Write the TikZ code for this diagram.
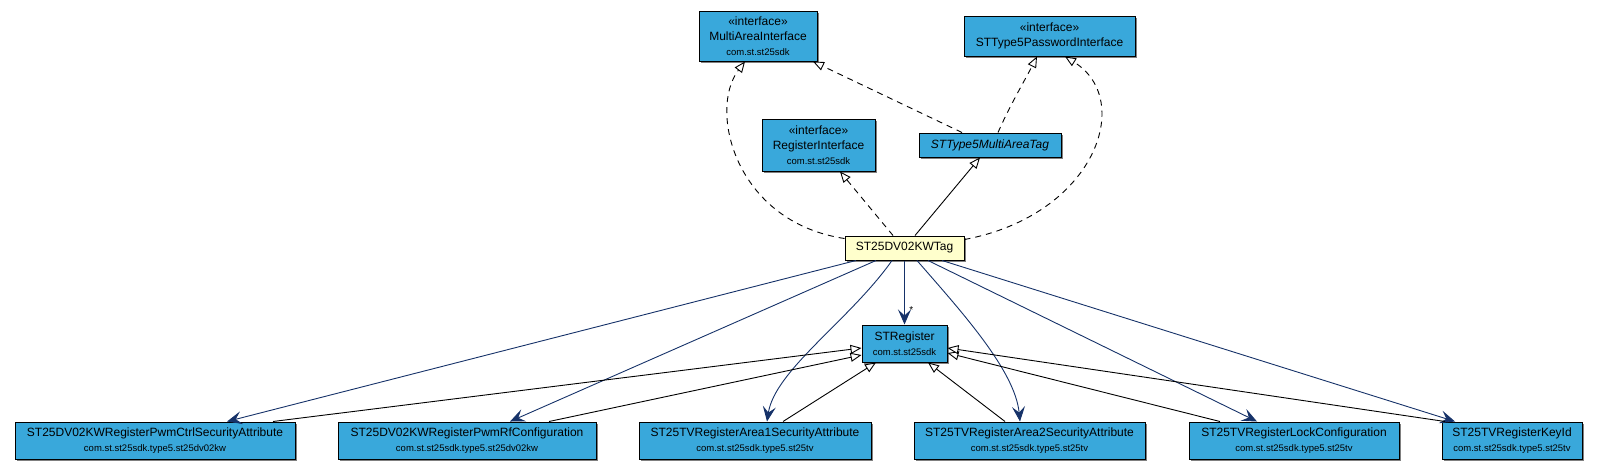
\documentclass[tikz,border=0pt]{standalone}
\usepackage{fontspec}
\setmainfont{Liberation Sans}
\usetikzlibrary{arrows.meta,shadows}
\definecolor{umlblue}{RGB}{57,168,219}
\definecolor{umlyellow}{RGB}{255,255,204}
\definecolor{depnavy}{RGB}{22,50,105}
\newcommand{\pkgname}[1]{{\fontsize{9.5}{11}\selectfont #1}}
\tikzset{
  umlbox/.style={draw=black, line width=1pt, fill=umlblue, inner sep=0pt, align=center,
    font=\fontsize{12}{15}\selectfont,
    drop shadow={shadow xshift=2pt, shadow yshift=-2pt, fill=black!50, opacity=1}},
  tagbox/.style={umlbox, fill=umlyellow},
  realize/.style={draw=black, line width=0.9pt, dash pattern=on 6pt off 5pt,
    -{Triangle[length=11pt, width=9pt, fill=white, line width=0.9pt]}},
  extends/.style={draw=black, line width=0.9pt,
    -{Triangle[length=11pt, width=9pt, fill=white, line width=0.9pt]}},
  depends/.style={draw=depnavy, line width=0.9pt,
    -{Stealth[length=15pt, width=13pt, inset=6pt]}}
}
\begin{document}
\begin{tikzpicture}[x=1pt, y=-1pt]
\useasboundingbox (0,0) rectangle (1597,469);
% interfaces and supertypes
\node[umlbox, minimum width=118pt, minimum height=50pt] (multiarea) at (758,36)
  {«interface»\\MultiAreaInterface\\\pkgname{com.st.st25sdk}};
\node[umlbox, minimum width=171pt, minimum height=40pt] (pwdiface) at (1049.5,36)
  {«interface»\\STType5PasswordInterface};
\node[umlbox, minimum width=113pt, minimum height=52pt] (regiface) at (818.5,145)
  {«interface»\\RegisterInterface\\\pkgname{com.st.st25sdk}};
\node[umlbox, minimum width=142pt, minimum height=24pt] (multitag) at (990,145)
  {\itshape STType5MultiAreaTag};
\node[tagbox, minimum width=119pt, minimum height=24pt] (tag) at (904.5,248) {ST25DV02KWTag};
\node[umlbox, minimum width=85pt, minimum height=37pt] (streg) at (904.5,343.5)
  {STRegister\\\pkgname{com.st.st25sdk}};
% registers
\node[umlbox, minimum width=280pt, minimum height=37pt] (pwmctrl) at (155,440.5)
  {ST25DV02KWRegisterPwmCtrlSecurityAttribute\\\pkgname{com.st.st25sdk.type5.st25dv02kw}};
\node[umlbox, minimum width=258pt, minimum height=37pt] (pwmrf) at (467,440.5)
  {ST25DV02KWRegisterPwmRfConfiguration\\\pkgname{com.st.st25sdk.type5.st25dv02kw}};
\node[umlbox, minimum width=232pt, minimum height=37pt] (area1) at (755,440.5)
  {ST25TVRegisterArea1SecurityAttribute\\\pkgname{com.st.st25sdk.type5.st25tv}};
\node[umlbox, minimum width=231pt, minimum height=37pt] (area2) at (1029.5,440.5)
  {ST25TVRegisterArea2SecurityAttribute\\\pkgname{com.st.st25sdk.type5.st25tv}};
\node[umlbox, minimum width=210pt, minimum height=37pt] (lock) at (1294,440.5)
  {ST25TVRegisterLockConfiguration\\\pkgname{com.st.st25sdk.type5.st25tv}};
\node[umlbox, minimum width=140pt, minimum height=37pt] (keyid) at (1512,440.5)
  {ST25TVRegisterKeyId\\\pkgname{com.st.st25sdk.type5.st25tv}};
% realizations and extension above the tag
\draw[realize] ([yshift=-3pt]tag.north west) .. controls (735,222) and (708,110) .. ([xshift=-13pt]multiarea.south);
\draw[realize] ([yshift=-4pt]tag.north east) .. controls (1095,215) and (1135,100) .. ([xshift=15.5pt]pwdiface.south);
\draw[realize] ([xshift=-11.5pt]tag.north) -- ([xshift=21.5pt]regiface.south);
\draw[extends] ([xshift=10.5pt]tag.north) -- ([xshift=-10pt]multitag.south);
\draw[realize] ([xshift=-28pt]multitag.north) -- ([xshift=55pt]multiarea.south);
\draw[realize] ([xshift=8pt]multitag.north) .. controls (1010,105) and (1025,80) .. ([xshift=-12.5pt]pwdiface.south);
% uses
\draw[depends] ([xshift=-48.5pt]tag.south) -- ([xshift=72pt]pwmctrl.north);
\draw[depends] ([xshift=-28.5pt]tag.south) -- ([xshift=43pt]pwmrf.north);
\draw[depends] ([xshift=-12.5pt]tag.south) .. controls (850,320) and (775,370) .. ([xshift=12pt]area1.north);
\draw[depends] (tag.south) -- node[pos=0.78, right=1pt, font=\fontsize{10}{10}\selectfont] {*} (streg.north);
\draw[depends] ([xshift=12.5pt]tag.south) .. controls (960,310) and (1015,370) .. ([xshift=-9.5pt]area2.north);
\draw[depends] ([xshift=23.5pt]tag.south) -- ([xshift=-37pt]lock.north);
\draw[depends] ([xshift=37.5pt]tag.south) -- ([xshift=-57pt]keyid.north);
% register subclasses
\draw[extends] ([xshift=118pt]pwmctrl.north) -- ([yshift=-4.5pt]streg.west);
\draw[extends] ([xshift=82pt]pwmrf.north) -- ([yshift=-11.5pt]streg.west);
\draw[extends] ([xshift=28pt]area1.north) -- ([xshift=-28.5pt]streg.south);
\draw[extends] ([xshift=-24.5pt]area2.north) -- ([xshift=23.5pt]streg.south);
\draw[extends] ([xshift=-74pt]lock.north) -- ([yshift=-9.5pt]streg.east);
\draw[extends] ([xshift=-67pt]keyid.north) -- ([yshift=-4.5pt]streg.east);
\end{tikzpicture}
\end{document}
